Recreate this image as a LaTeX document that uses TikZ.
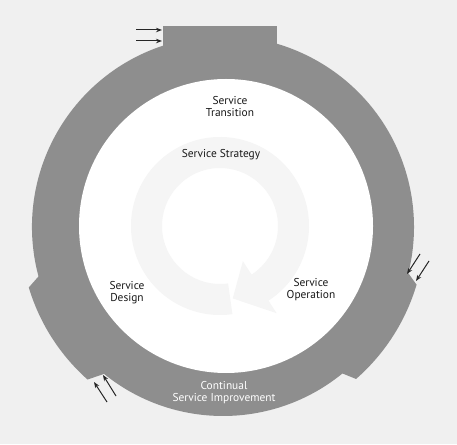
\documentclass[tikz,border=0pt]{standalone}
\usepackage{fontspec}
\setmainfont{PT Sans}
\usetikzlibrary{arrows.meta}
\definecolor{bgc}{RGB}{240,240,240}
\definecolor{ringc}{RGB}{142,142,142}
\definecolor{faintc}{RGB}{245,245,245}
\definecolor{txtc}{RGB}{25,25,25}
\tikzset{
  lbl/.style={align=center, text=txtc, font=\fontsize{11.4}{12}\selectfont, inner sep=0pt},
  lblw/.style={lbl, text=white},
  pin/.style={-{Stealth[length=6pt,width=4.5pt]}, line width=1pt, black!85}
}
\begin{document}
\begin{tikzpicture}[x=1pt,y=1pt]
\fill[bgc] (0,0) rectangle (457,444);
\useasboundingbox (0,0) rectangle (457,444);
% outer grey ring with notches
\begin{scope}[shift={(223,217)}]
\fill[ringc] (195:191pt) arc[start angle=195, end angle=-14, radius=191pt]
  -- (-16.6:202pt) arc[start angle=-16.6, end angle=-48.8, radius=202pt]
  -- (-50.8:189pt) arc[start angle=-50.8, end angle=-129, radius=189pt]
  -- (-131.6:204pt) arc[start angle=-131.6, end angle=-163.3, radius=200pt]
  -- cycle;
\end{scope}
\fill[ringc] (163,418) rectangle (277,374);
% inner white disc
\fill[white] (226,218) circle[radius=147pt];
% faint circular arrow
\begin{scope}[shift={(220,218)}]
\fill[faintc] (278:58pt) arc[start angle=278, end angle=-57, radius=58pt]
  -- (-57:42pt) -- (-80:73.5pt) -- (-57:104pt)
  -- (-57:89pt) arc[start angle=-57, end angle=278, radius=89pt] -- cycle;
\end{scope}
% labels
\node[lbl] (trans) at (230,337.5) {Service\\Transition};
\node[lbl] (strat) at (221,289) {Service Strategy};
\node[lbl] (design) at (127,151.5) {Service\\Design};
\node[lbl] (oper) at (311,154.5) {Service\\Operation};
\node[lblw] (csi) at (224,51.5) {Continual\\Service Improvement};
% small arrows
\coordinate (t1s) at (136,414); \coordinate (t1e) at (162,414);
\coordinate (t2s) at (136,403); \coordinate (t2e) at (162,403);
\coordinate (r1s) at (420,190); \coordinate (r1e) at (407,170);
\coordinate (r2s) at (429,183); \coordinate (r2e) at (416,163);
\coordinate (b1s) at (107,42); \coordinate (b1e) at (94,62);
\coordinate (b2s) at (116,48); \coordinate (b2e) at (103,69);
\draw[pin] (t1s) -- (t1e);
\draw[pin] (t2s) -- (t2e);
\draw[pin] (r1s) -- (r1e);
\draw[pin] (r2s) -- (r2e);
\draw[pin] (b1s) -- (b1e);
\draw[pin] (b2s) -- (b2e);
\end{tikzpicture}
\end{document}
